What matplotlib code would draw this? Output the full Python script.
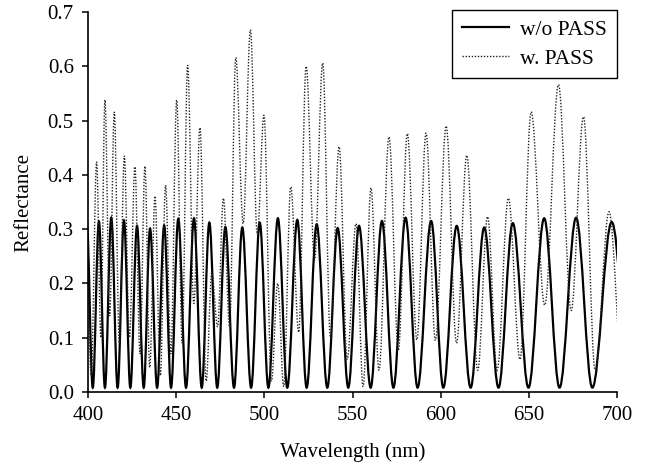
import matplotlib
matplotlib.use("Agg")
import matplotlib.pyplot as plt
from matplotlib.path import Path
from matplotlib.patches import PathPatch
from matplotlib.lines import Line2D

plt.rcParams["font.family"] = ["Liberation Serif", "DejaVu Serif"]
plt.rcParams["font.size"] = 15

# Interference fringes: wavelength (nm) and reflectance at each maximum / minimum
solid_peak_nm = [399.3, 406.2, 413.2, 420.4, 427.8, 435.2, 443.2, 451.2, 460.1,
                 468.8, 477.9, 487.5, 497.4, 507.7, 518.7, 529.7, 541.6, 553.7,
                 566.7, 580.1, 594.6, 609.1, 624.7, 640.9, 658.7, 676.8, 697.0]
solid_peak_R = [0.310, 0.314, 0.321, 0.316, 0.306, 0.301, 0.307, 0.319, 0.320,
                0.312, 0.304, 0.303, 0.312, 0.320, 0.317, 0.309, 0.302, 0.306,
                0.315, 0.321, 0.315, 0.306, 0.303, 0.311, 0.320, 0.321, 0.313]
solid_trough_nm = [402.7, 409.6, 416.8, 424.0, 431.6, 439.2, 447.1, 455.6, 464.5,
                   473.3, 482.8, 492.5, 502.3, 513.0, 524.0, 535.7, 547.6, 560.3,
                   573.2, 586.9, 601.5, 617.0, 632.8, 649.8, 667.4, 686.0, 708.0]
solid_trough_R = [0.008] * len(solid_trough_nm)

dotted_peak_nm = [398.8, 404.9, 409.6, 414.9, 420.6, 426.6, 432.3, 438.0, 444.0,
                  450.3, 456.5, 463.5, 470.2, 476.8, 483.8, 492.1, 499.8, 507.6,
                  515.0, 523.7, 533.1, 542.4, 552.0, 560.5, 570.7, 581.1, 591.7,
                  603.1, 614.8, 626.6, 638.4, 651.3, 666.8, 681.0, 695.5]
dotted_peak_R = [0.300, 0.424, 0.538, 0.516, 0.435, 0.415, 0.416, 0.361, 0.381,
                 0.538, 0.602, 0.487, 0.220, 0.357, 0.616, 0.667, 0.510, 0.200,
                 0.378, 0.600, 0.606, 0.452, 0.310, 0.376, 0.470, 0.476, 0.477,
                 0.490, 0.436, 0.323, 0.357, 0.516, 0.566, 0.507, 0.332]
dotted_trough_nm = [401.8, 407.3, 412.3, 417.8, 423.5, 429.5, 435.0, 441.0, 447.0,
                    453.4, 460.0, 467.0, 473.5, 480.3, 488.0, 496.0, 504.0, 511.0,
                    519.5, 528.5, 537.5, 547.0, 556.0, 565.0, 576.0, 586.5, 597.0,
                    609.0, 621.0, 632.0, 645.0, 659.0, 674.0, 687.6, 703.0]
dotted_trough_R = [0.030, 0.100, 0.140, 0.090, 0.100, 0.070, 0.045, 0.030, 0.070,
                   0.090, 0.163, 0.020, 0.120, 0.120, 0.310, 0.290, 0.020, 0.010,
                   0.110, 0.243, 0.100, 0.060, 0.010, 0.040, 0.077, 0.096, 0.095,
                   0.090, 0.040, 0.040, 0.060, 0.160, 0.150, 0.040, 0.050]

x_ticks = [400, 450, 500, 550, 600, 650, 700]
y_ticks = [0.0, 0.1, 0.2, 0.3, 0.4, 0.5, 0.6, 0.7]
series_labels = ["w/o PASS", "w. PASS"]


def fringe_path(peak_nm, peak_R, trough_nm, trough_R):
    """Smooth path through alternating extrema with flat tangents (cubic Bezier)."""
    pts = []
    for p, pr, t, tr in zip(peak_nm, peak_R, trough_nm, trough_R):
        pts.append((p, pr))
        pts.append((t, tr))
    verts = [pts[0]]
    codes = [Path.MOVETO]
    k = 0.363
    for (x0, y0), (x1, y1) in zip(pts[:-1], pts[1:]):
        dx = x1 - x0
        verts += [(x0 + k * dx, y0), (x1 - k * dx, y1), (x1, y1)]
        codes += [Path.CURVE4] * 3
    return Path(verts, codes)


fig = plt.figure(figsize=(6.58, 4.72), dpi=100)
ax = fig.add_axes([88 / 658, 80 / 472, (617 - 88) / 658, (392 - 12) / 472])

solid_style = dict(color="black", linewidth=1.6, linestyle="-")
dotted_style = dict(color="#222222", linewidth=1.0, linestyle=(0, (1, 1.2)))

ax.add_patch(PathPatch(fringe_path(solid_peak_nm, solid_peak_R,
                                   solid_trough_nm, solid_trough_R),
                       fill=False, **solid_style))
ax.add_patch(PathPatch(fringe_path(dotted_peak_nm, dotted_peak_R,
                                   dotted_trough_nm, dotted_trough_R),
                       fill=False, **dotted_style))

ax.set_xlim(400, 700)
ax.set_ylim(0, 0.7)
ax.set_xticks(x_ticks)
ax.set_yticks(y_ticks)
ax.set_yticklabels([f"{v:.1f}" for v in y_ticks])
ax.tick_params(direction="out", length=4.2, width=1.1, pad=6, labelsize=15)

for side in ("top", "right"):
    ax.spines[side].set_visible(False)
for side in ("left", "bottom"):
    ax.spines[side].set_linewidth(1.2)

ax.set_xlabel("Wavelength (nm)", fontsize=15, labelpad=12)
ax.set_ylabel("Reflectance", fontsize=15, labelpad=10)

handles = [Line2D([], [], **solid_style), Line2D([], [], **dotted_style)]
leg = ax.legend(handles, series_labels, loc="upper right",
                bbox_to_anchor=(1.0, 1.005), borderaxespad=0, fancybox=False,
                framealpha=1, edgecolor="black", handlelength=2.17,
                handletextpad=0.54, labelspacing=0.4, borderpad=0.45,
                fontsize=15.5)
leg.get_frame().set_linewidth(1.0)

fig.savefig("out.png", dpi=100)
